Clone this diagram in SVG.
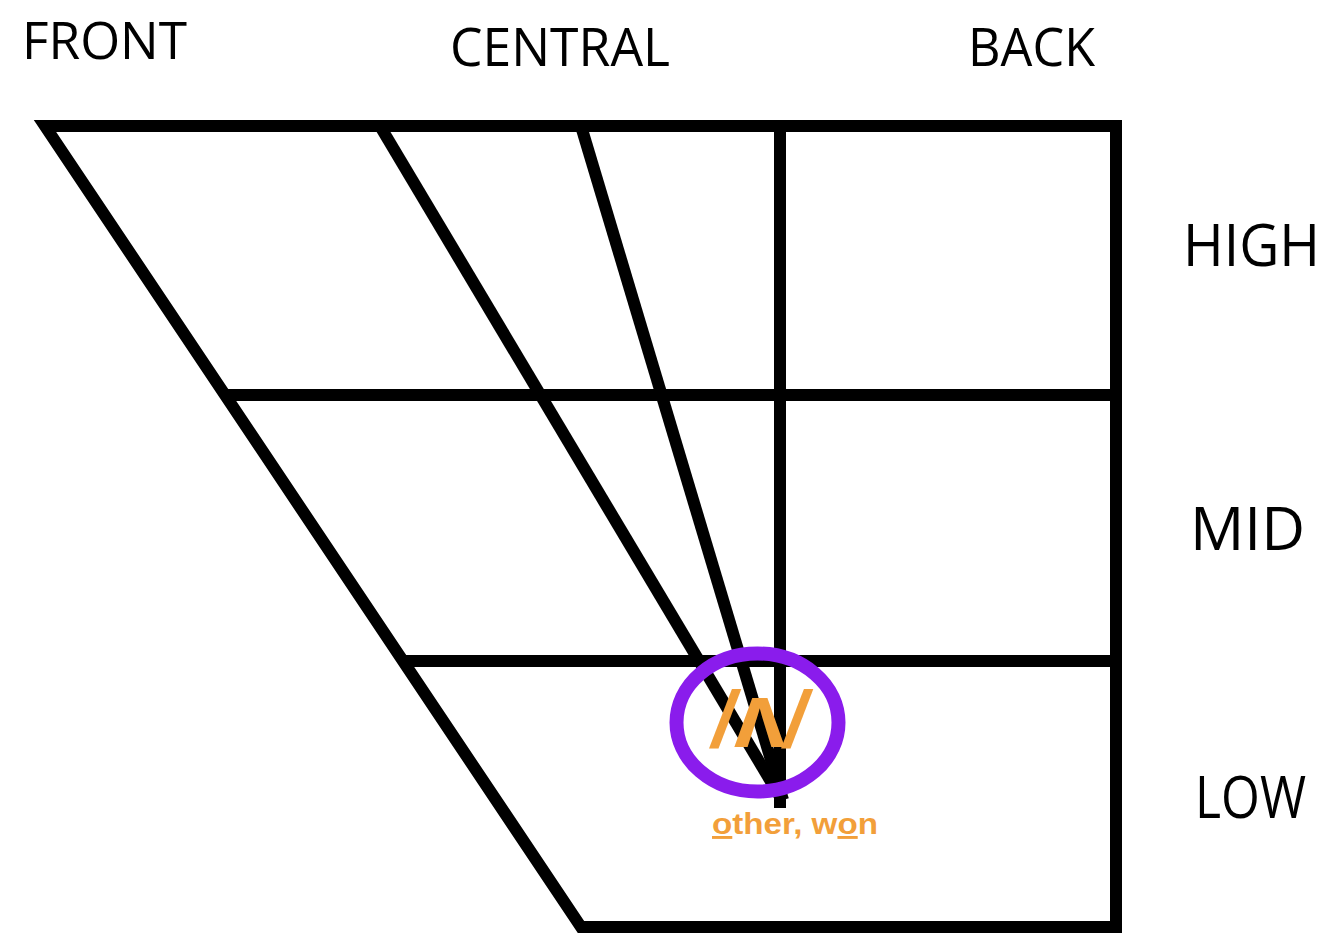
<svg xmlns="http://www.w3.org/2000/svg" width="1334" height="939" viewBox="0 0 1334 939">
<style>
.ln{stroke:#000;stroke-width:12;fill:none;stroke-linecap:butt;stroke-linejoin:miter}
.lbl{font-family:"Open Sans","Noto Sans",sans-serif;fill:#000}
.or{font-family:"Liberation Sans",Arial,sans-serif;font-weight:bold;fill:#F29F3A}
</style>
<rect width="1334" height="939" fill="#fff"/>
<g id="labels">
<text class="lbl" x="22" y="59" font-size="52" textLength="165" lengthAdjust="spacingAndGlyphs">FRONT</text>
<text class="lbl" x="450" y="66" font-size="53" textLength="220" lengthAdjust="spacingAndGlyphs">CENTRAL</text>
<text class="lbl" x="968" y="66" font-size="53" textLength="127" lengthAdjust="spacingAndGlyphs">BACK</text>
<text class="lbl" x="1183" y="266" font-size="58" textLength="137" lengthAdjust="spacingAndGlyphs">HIGH</text>
<text class="lbl" x="1190" y="550" font-size="60" textLength="115" lengthAdjust="spacingAndGlyphs">MID</text>
<text class="lbl" x="1195" y="818" font-size="58" textLength="111" lengthAdjust="spacingAndGlyphs">LOW</text>
</g>
<g id="connectors">
<polygon class="ln" points="45,126 1116,126 1116,927 581,927"/>
<line class="ln" x1="225" y1="395" x2="1116" y2="395"/>
<line class="ln" x1="403" y1="661" x2="1116" y2="661"/>
<line class="ln" x1="380" y1="126" x2="782" y2="800"/>
<line class="ln" x1="581" y1="126" x2="783" y2="800"/>
<line class="ln" x1="780" y1="126" x2="780" y2="808"/>
</g>
<g id="vowel">
<ellipse cx="757.5" cy="722.5" rx="81" ry="69" fill="none" stroke="#8A1CEC" stroke-width="14"/>
<text class="or" x="712" y="747" font-size="80" font-style="italic">/<tspan x="734" font-size="92" font-style="normal">ʌ</tspan><tspan x="784" font-size="80">/</tspan></text>
<text class="or" x="712" y="834" font-size="29" textLength="166" lengthAdjust="spacingAndGlyphs"><tspan text-decoration="underline">o</tspan>ther, w<tspan text-decoration="underline">o</tspan>n</text>
</g>
</svg>
